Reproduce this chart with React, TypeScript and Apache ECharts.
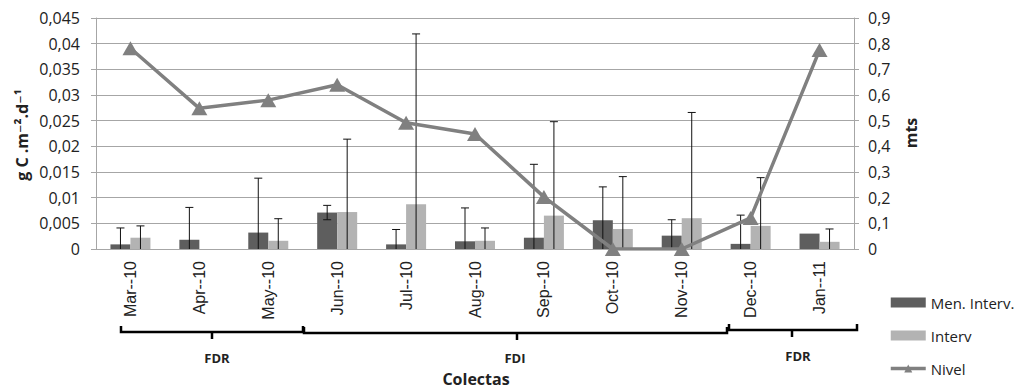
import React, { useEffect, useRef } from "react";
import * as echarts from "echarts";

const categories = ["Mar--10", "Apr--10", "May--10", "Jun--10", "Jul--10", "Aug--10", "Sep--10", "Oct--10", "Nov--10", "Dec--10", "Jan--11"];
const menInterv = [0.0009, 0.0018, 0.0032, 0.0071, 0.0009, 0.0015, 0.0022, 0.0056, 0.0026, 0.001, 0.003];
const interv = [0.0022, 0, 0.0016, 0.0072, 0.0087, 0.0016, 0.0065, 0.0039, 0.006, 0.0045, 0.0014];
const menIntervErr = [0.0032, 0.0063, 0.0106, 0.0014, 0.0029, 0.0065, 0.0143, 0.0065, 0.0031, 0.0056, null];
const intervErr = [0.0023, null, 0.0043, 0.0142, 0.0332, 0.0025, 0.0183, 0.0102, 0.0206, 0.0094, 0.0025];
const nivel = [0.782, 0.548, 0.58, 0.64, 0.492, 0.448, 0.203, 0, 0, 0.121, 0.775];
const groups = [
  { label: "FDR", x0: 121, x1: 303, mid: 212, y: 332, lx: 217, ly: 358 },
  { label: "FDI", x0: 304, x1: 727, mid: 517, y: 333, lx: 515, ly: 358 },
  { label: "FDR", x0: 729, x1: 857, mid: 792, y: 330, lx: 798, ly: 356 },
];

const FONT = "'Open Sans', 'DejaVu Sans', sans-serif";
const TXT = "#222";

function fmt(v: number) {
  if (v === 0) return "0";
  return String(+v.toFixed(3)).replace(".", ",");
}

function errData(vals: number[], errs: (number | null)[], off: number) {
  const out: number[][] = [];
  vals.forEach((v, i) => {
    const e = errs[i];
    if (e != null) out.push([i, v, e, off]);
  });
  return out;
}

function renderErr(params: any, api: any) {
  const i = api.value(0);
  const v = api.value(1);
  const e = api.value(2);
  const off = api.value(3);
  const top = api.coord([i, v + e]);
  const lowV = Math.max(0, v - e);
  const bot = api.coord([i, lowV]);
  const x = top[0] + off;
  const st = { stroke: "#111", lineWidth: 1 };
  const children: any[] = [
    { type: "line", shape: { x1: x, y1: top[1], x2: x, y2: bot[1] }, style: st },
    { type: "line", shape: { x1: x - 4, y1: top[1], x2: x + 4, y2: top[1] }, style: st },
  ];
  if (v - e > 0) {
    children.push({ type: "line", shape: { x1: x - 4, y1: bot[1], x2: x + 4, y2: bot[1] }, style: st });
  }
  return { type: "group", children };
}

export default function App() {
  const ref = useRef<HTMLDivElement>(null);
  useEffect(() => {
    if (!ref.current) return;
    const chart = echarts.init(ref.current, undefined, { renderer: "svg" });
    const graphics: any[] = [];
    groups.forEach((g) => {
      graphics.push({
        type: "polyline",
        shape: { points: [[g.x0, g.y - 6], [g.x0, g.y], [g.x1, g.y], [g.x1, g.y - 6]] },
        style: { stroke: "#000", lineWidth: 2.5, fill: null },
      });
      graphics.push({
        type: "line",
        shape: { x1: g.mid, y1: g.y, x2: g.mid, y2: g.y + 7 },
        style: { stroke: "#000", lineWidth: 2.5 },
      });
      graphics.push({
        type: "text",
        x: g.lx,
        y: g.ly,
        style: { text: g.label, fontFamily: FONT, fontWeight: "bold", fontSize: 13, fill: TXT, align: "center", verticalAlign: "middle" },
      });
    });
    graphics.push({
      type: "text",
      x: 476,
      y: 379,
      style: { text: "Colectas", fontFamily: FONT, fontWeight: "bold", fontSize: 16, fill: TXT, align: "center", verticalAlign: "middle" },
    });
    graphics.push({
      type: "text",
      x: 22,
      y: 135,
      rotation: Math.PI / 2,
      style: { text: "g C .m⁻².d⁻¹", fontFamily: FONT, fontWeight: "bold", fontSize: 16, fill: TXT, align: "center", verticalAlign: "middle" },
    });
    graphics.push({
      type: "text",
      x: 911,
      y: 133,
      rotation: Math.PI / 2,
      style: { text: "mts", fontFamily: FONT, fontWeight: "bold", fontSize: 16, fill: TXT, align: "center", verticalAlign: "middle" },
    });

    chart.setOption({
      animation: false,
      grid: { left: 96, right: 161, top: 18, bottom: 140, containLabel: false },
      legend: {
        orient: "vertical",
        left: 884,
        top: 290,
        itemWidth: 35,
        itemHeight: 10,
        itemGap: 18,
        textStyle: { fontFamily: FONT, fontSize: 15, color: TXT },
        data: [
          { name: "Men. Interv.", icon: "rect" },
          { name: "Interv", icon: "rect" },
          { name: "Nivel", itemStyle: { color: "#808080" }, lineStyle: { color: "#808080", width: 3.5 } },
        ],
      },
      xAxis: {
        type: "category",
        data: categories,
        boundaryGap: true,
        axisLine: { lineStyle: { color: "#a6a6a6", width: 1 } },
        axisTick: { show: false },
        axisLabel: { rotate: 90, margin: 12, fontFamily: "'Liberation Sans', Arial, sans-serif", fontSize: 16, color: TXT },
      },
      yAxis: [
        {
          type: "value",
          min: 0,
          max: 0.045,
          interval: 0.005,
          axisLine: { show: true, lineStyle: { color: "#a6a6a6" } },
          axisTick: { show: true, length: 5, lineStyle: { color: "#a6a6a6" } },
          splitLine: { lineStyle: { color: "#a6a6a6", width: 1 } },
          axisLabel: { margin: 16, fontFamily: FONT, fontSize: 16, color: TXT, formatter: fmt },
        },
        {
          type: "value",
          min: 0,
          max: 0.9,
          interval: 0.1,
          position: "right",
          axisLine: { show: true, lineStyle: { color: "#a6a6a6" } },
          axisTick: { show: true, length: 5, lineStyle: { color: "#a6a6a6" } },
          splitLine: { show: false },
          axisLabel: { margin: 14, fontFamily: FONT, fontSize: 16, color: TXT, formatter: fmt },
        },
      ],
      series: [
        {
          name: "Men. Interv.",
          type: "bar",
          data: menInterv,
          barWidth: 20,
          barGap: "0%",
          itemStyle: { color: "#5e5e5e" },
          z: 2,
        },
        {
          name: "Interv",
          type: "bar",
          data: interv,
          barWidth: 20,
          barGap: "0%",
          itemStyle: { color: "#b3b3b3" },
          z: 2,
        },
        {
          name: "errMen",
          type: "custom",
          renderItem: renderErr,
          data: errData(menInterv, menIntervErr, -10),
          encode: { x: 0, y: 1 },
          z: 3,
          silent: true,
        },
        {
          name: "errInterv",
          type: "custom",
          renderItem: renderErr,
          data: errData(interv, intervErr, 10),
          encode: { x: 0, y: 1 },
          z: 3,
          silent: true,
        },
        {
          name: "Nivel",
          type: "line",
          yAxisIndex: 1,
          data: nivel,
          symbol: "triangle",
          symbolSize: [16, 14],
          lineStyle: { color: "#808080", width: 3.5 },
          itemStyle: { color: "#808080" },
          z: 5,
        },
      ],
      graphic: graphics,
    });
    return () => chart.dispose();
  }, []);
  return <div ref={ref} style={{ position: "fixed", left: 0, top: 0, width: 1015, height: 389, background: "#fff" }} />;
}
